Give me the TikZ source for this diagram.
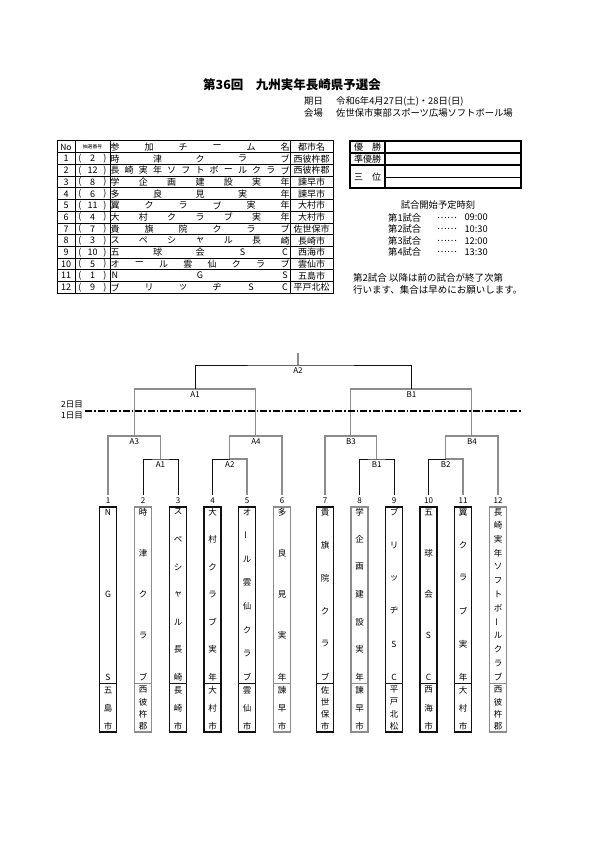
\documentclass[tikz,border=0pt]{standalone}
\usepackage{fontspec}
\setmainfont{Noto Sans CJK JP}
\usepackage{graphicx}
\usetikzlibrary{positioning}
\definecolor{ink}{HTML}{111111}
\definecolor{lgray}{HTML}{8C8C8C}
\newcommand\vbar{\rotatebox{90}{ー}}
\tikzset{blk/.style={draw=ink,line width=1pt},gry/.style={draw=lgray,line width=1.1pt},
  mlab/.style={font=\fontsize{8}{8}\selectfont,inner sep=1pt},
  cell/.style={font=\fontsize{9}{9}\selectfont,inner sep=0pt},
  vch/.style={font=\fontsize{8.5}{8.5}\selectfont,inner sep=0pt},
  tbox/.style={minimum width=17pt,minimum height=225pt,inner sep=0pt,line width=1.1pt},
  info/.style={font=\fontsize{9.3}{10}\selectfont,inner sep=0pt,anchor=west}}

\begin{document}
\begin{tikzpicture}[x=1pt,y=-1pt]
\useasboundingbox[fill=white] (0,0) rectangle (595,842);
\node[font=\fontsize{12.5}{13}\selectfont\bfseries] (title) at (292,85) {第36回　九州実年長崎県予選会};
\node[info] (dlab) at (304,101) {期日};
\node[info] (date) at (336,101) {令和6年4月27日(土)・28日(日)};
\node[info] (plab) at (304,113) {会場};
\node[info] (place) at (336,113) {佐世保市東部スポーツ広場ソフトボール場};
\draw[line width=1pt] (57,141) rectangle (333,293.1);
\foreach \r in {1,...,12} \draw[line width=.6pt] (57,{141+\r*11.7}) -- (333,{141+\r*11.7});
\foreach \c in {75,110,290} \draw[line width=.6pt] (\c,141) -- (\c,293.1);
\node[cell,font=\fontsize{8.5}{8.5}\selectfont] (hno) at (66,147) {No};
\node[cell,font=\fontsize{4.8}{5}\selectfont] (hdraw) at (92.5,147) {抽選番号};
\foreach \c [count=\j] in {参,加,チ,ー,ム,名} \node[cell] at ({115+(\j-1)*34},147) {\c};
\node[cell] (hcity) at (311.5,147) {都市名};
\foreach \r/\d/\n/\nm/\ct in {1/2/5/{時,津,ク,ラ,ブ}/西彼杵郡,
  2/12/13/{長,崎,実,年,ソ,フ,ト,ボ,ー,ル,ク,ラ,ブ}/西彼杵郡,
  3/8/7/{学,企,画,建,設,実,年}/諫早市, 4/6/5/{多,良,見,実,年}/諫早市,
  5/11/6/{翼,ク,ラ,ブ,実,年}/大村市, 6/4/7/{大,村,ク,ラ,ブ,実,年}/大村市,
  7/7/6/{貴,旗,院,ク,ラ,ブ}/佐世保市, 8/3/7/{ス,ペ,シ,ャ,ル,長,崎}/長崎市,
  9/10/5/{五,球,会,S,C}/西海市, 10/5/8/{オ,ー,ル,雲,仙,ク,ラ,ブ}/雲仙市,
  11/1/3/{N,G,S}/五島市, 12/9/6/{ブ,リ,ッ,ヂ,S,C}/平戸北松}{
  \node[cell] at (66,{147+\r*11.7}) {\r};
  \node[cell] at (80,{147+\r*11.7}) {(};
  \node[cell] at (92.5,{147+\r*11.7}) {\d};
  \node[cell] at (105,{147+\r*11.7}) {)};
  \foreach \c [count=\j] in \nm \node[cell] at ({115+(\j-1)*170/(\n-1)},{147+\r*11.7}) {\c};
  \node[cell] at (311.5,{147+\r*11.7}) {\ct};
}
\draw[line width=1.1pt] (350,141) rectangle (521,188);
\draw[line width=1.1pt] (350,153) -- (521,153) (350,165) -- (521,165) (385,141) -- (385,188);
\draw[line width=.7pt] (385,177) -- (521,177);
\node[cell] (win) at (367.5,147) {優　勝};
\node[cell] (second) at (367.5,159) {準優勝};
\node[cell] (third) at (367.5,177) {三　位};
\node[info,anchor=center] (sched) at (438,205) {試合開始予定時刻};
\foreach \g/\t [count=\k] in {1/09:00,2/10:30,3/12:00,4/13:30}{
  \node[info] at (388,{206+\k*11.6}) {第\g 試合};
  \node[info] at (437,{206+\k*11.6}) {……};
  \node[info,anchor=east] at (488,{206+\k*11.6}) {\t};
}
\node[info,font=\fontsize{9.5}{10}\selectfont] (note1) at (353,278) {第2試合 以降は前の試合が終了次第};
\node[info,font=\fontsize{9.5}{10}\selectfont] (note2) at (353,290) {行います、集合は早めにお願いします。};
\foreach \i/\x in {1/108,2/143,3/178,4/212.5,5/247,6/282,7/325,8/359.5,9/394,10/428.5,11/463,12/498}
  \coordinate (t\i) at (\x,495);
\coordinate (a1) at (160.5,459);
\coordinate (a2) at (229.8,459);
\coordinate (b1) at (376.8,459);
\coordinate (b2) at (445.8,459);
\coordinate (a3) at (134.3,436);
\coordinate (a4) at (255.9,436);
\coordinate (b3) at (350.9,436);
\coordinate (b4) at (471.9,436);
\coordinate (s1) at (195.1,389);
\coordinate (s2) at (411.4,389);
\coordinate (fin) at (298,365);
\coordinate (top) at (298,353);
\draw[blk] (t2) |- (a1) -| (t3);
\draw[blk] (t4) |- (a2);
\draw[gry] (a2) -| (t5);
\draw[blk] (t8) |- (b1) -| (t9);
\draw[blk] (t10) |- (b2);
\draw[gry] (b2) -| (t11);
\draw[gry] (t1) |- (a3) -| (a1);
\draw[gry] (a2) |- (a4) -| (t6);
\draw[gry] (t7) |- (b3) -| (b1);
\draw[gry] (b2) |- (b4) -| (t12);
\draw[gry] (a3) |- (s1) -| (a4);
\draw[gry] (b3) |- (s2) -| (b4);
\draw[blk] (s1) |- (fin) -| (s2);
\draw[gry] (fin) -- (top);
\path (a1) node[mlab,below=1.5pt] {A1} (a2) node[mlab,below=1.5pt] {A2}
  (b1) node[mlab,below=1.5pt] {B1} (b2) node[mlab,below=1.5pt] {B2}
  (a3) node[mlab,below=1.5pt] {A3} (a4) node[mlab,below=1.5pt] {A4}
  (b3) node[mlab,below=1.5pt] {B3} (b4) node[mlab,below=1.5pt] {B4}
  (s1) node[mlab,below=1.5pt] {A1} (s2) node[mlab,below=1.5pt] {B1}
  (fin) node[mlab,below=1.5pt] {A2};
\draw[line width=1.2pt,dash pattern=on 7pt off 2pt on 1.5pt off 2pt] (85,411) -- (522,411);
\node[font=\fontsize{8.5}{8.5}\selectfont,inner sep=0pt] (day2) at (72,405) {2日目};
\node[font=\fontsize{8.5}{8.5}\selectfont,inner sep=0pt] (day1) at (72,416) {1日目};
\foreach \i/\bc/\n/\nm/\m/\ct in {1/ink/3/{N,G,S}/3/{五,島,市},
  2/lgray/5/{時,津,ク,ラ,ブ}/4/{西,彼,杵,郡},
  3/ink/7/{ス,ペ,シ,ャ,ル,長,崎}/3/{長,崎,市},
  4/ink/7/{大,村,ク,ラ,ブ,実,年}/3/{大,村,市},
  5/ink/8/{オ,\vbar,ル,雲,仙,ク,ラ,ブ}/3/{雲,仙,市},
  6/lgray/5/{多,良,見,実,年}/3/{諫,早,市},
  7/ink/6/{貴,旗,院,ク,ラ,ブ}/4/{佐,世,保,市},
  8/lgray/7/{学,企,画,建,設,実,年}/3/{諫,早,市},
  9/ink/6/{ブ,リ,ッ,ヂ,S,C}/4/{平,戸,北,松},
  10/ink/5/{五,球,会,S,C}/3/{西,海,市},
  11/ink/6/{翼,ク,ラ,ブ,実,年}/3/{大,村,市},
  12/lgray/13/{長,崎,実,年,ソ,フ,ト,ボ,\vbar,ル,ク,ラ,ブ}/4/{西,彼,杵,郡}}{
  \node[tbox,draw=\bc] (box\i) at (t\i |- 0,619.5) {};
  \draw[draw=\bc,line width=.8pt] (box\i.west |- 0,683) -- (box\i.east |- 0,683);
  \node[mlab,inner sep=0pt] at (t\i |- 0,500.5) {\i};
  \foreach \c [count=\j] in \nm \node[vch] at (t\i |- 0,{512+(\j-1)*165/(\n-1)}) {\c};
  \foreach \c [count=\j] in \ct \node[vch] at (t\i |- 0,{690+(\j-1)*36/(\m-1)}) {\c};
}
\end{tikzpicture}
\end{document}
